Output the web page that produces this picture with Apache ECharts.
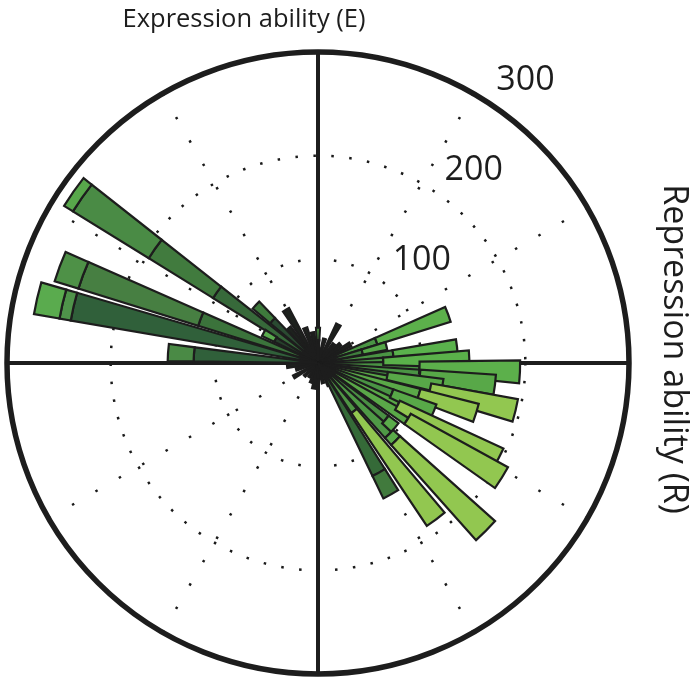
<!DOCTYPE html>
<html>
<head>
<meta charset="utf-8">
<script src="https://cdn.jsdelivr.net/npm/echarts@6/dist/echarts.min.js"></script>
<style>html,body{margin:0;padding:0;background:#fff;}#c{width:693px;height:681px;}</style>
</head>
<body>
<div id="c"></div>
<script>
// ---- data ----
const topLabel = 'Expression ability (E)';
const rightLabel = 'Repression ability (R)';
const radiusTicks = [100, 200, 300];
const radiusTickLabels = ['100', '200', '300'];

const DK = '#1e221e';
// bar directions (degrees, counter-clockwise from R axis)
const barAngles = [30, 40, 50, 62, 75, 100, 110, 121, 130, 186, 196, 210, 224, 238, 250, 260, 272, 284, 296,
  90, 137, 151, 145, 159.5, 167, 176,
  20.5, 14, 6.5, 1.5, 357.5, 353, 349.5, 346.5, 342.5, 337.5, 332, 328, 320, 315, 307, 299];
// stacked segment lengths, inner to outer (null = no segment)
const seg1 = [36, 28, 24, 42, 24, 30, 36, 60, 44, 30, 22, 27, 18, 16, 20, 25, 14, 20, 24,
  22, 60, 47, 119, 121, 242, 120,
  60, 44, 73, 63, 98, 99, 68, 111, 102, 77, 87, 102, 85, 97, 58, 121];
const seg2 = [null, null, null, null, null, null, null, null, null, null, null, null, null, null, null, null, null, null, null,
  12, 22, 13, 73, 121, 11, 25,
  74, 24, 62, 83, 97, 73, 54, 85, 58, 44, 110, 107, 12, 9, 131, 24];
const seg3 = [null, null, null, null, null, null, null, null, null, null, null, null, null, null, null, null, null, null, null,
  null, null, null, 86, 24, 25, null,
  null, null, null, null, null, null, null, null, null, null, null, null, null, 123, null, null];
const seg4 = [null, null, null, null, null, null, null, null, null, null, null, null, null, null, null, null, null, null, null,
  null, null, null, 10, null, null, null,
  null, null, null, null, null, null, null, null, null, null, null, null, null, null, null, null];
const col1 = [DK, DK, DK, DK, DK, DK, DK, DK, DK, DK, DK, DK, DK, DK, DK, DK, DK, DK, DK,
  DK, '#2a4a31', '#263f2b', '#37693a', '#3b733b', '#30603a', '#30603a',
  '#4a9444', '#3f7f3d', '#4a9444', '#4a9444', '#4a9444', '#4a9444', '#3f7f3d', '#5aa848', '#5aa848', '#4a9444', '#5aa848', '#5aa848', '#4a8f44', '#4f9a46', '#4f9645', '#356a38'];
const col2 = [DK, DK, DK, DK, DK, DK, DK, DK, DK, DK, DK, DK, DK, DK, DK, DK, DK, DK, DK,
  '#4f9a46', '#3e7a3c', '#5aab4e', '#417b3e', '#477f42', '#4f944a', '#4a8a45',
  '#5cb04b', '#55a648', '#5ab24c', '#5ab04a', '#5cb04b', '#58a848', '#58a848', '#92c750', '#92c750', '#58a848', '#92c750', '#92c750', '#5aab4a', '#5aab4a', '#92c750', '#417a3d'];
const col3 = barAngles.map(function (a, i) { return i === 22 ? '#4a8b45' : i === 23 ? '#4e9147' : i === 24 ? '#5aab4e' : '#92c750'; });
const col4 = barAngles.map(function () { return '#58a84b'; });

// ---- chart ----
const segs = [seg1, seg2, seg3, seg4];
const cols = [col1, col2, col3, col4];
const center = [318, 363];
const R = 311;

const series = segs.map(function (seg, k) {
  return {
    type: 'bar',
    coordinateSystem: 'polar',
    polarIndex: 0,
    stack: 'rose',
    barWidth: 6.5,
    silent: true,
    animation: false,
    itemStyle: { borderColor: '#1d1d1d', borderWidth: 2.2 },
    data: barAngles.map(function (a, i) {
      const v = seg[i];
      if (v == null) return { value: ['-', a] };
      return { value: [v, a], itemStyle: { color: cols[k][i] } };
    })
  };
});

const chart = echarts.init(document.getElementById('c'), null, { renderer: 'canvas' });
chart.setOption({
  backgroundColor: '#ffffff',
  animation: false,
  polar: [
    { center: center, radius: R },
    { center: center, radius: R },
    { center: [center[0] + 52, center[1] - 13], radius: R }
  ],
  angleAxis: [
    { polarIndex: 0, type: 'value', min: 0, max: 360, interval: 30, startAngle: 0, clockwise: false,
      axisLine: { show: true, lineStyle: { color: '#1d1d1d', width: 5.5 } },
      axisTick: { show: false }, axisLabel: { show: false },
      splitLine: { show: true, lineStyle: { color: '#1a1a1a', width: 2.5, type: [2.5, 24.5] } } },
    { polarIndex: 1, type: 'value', min: 0, max: 360, interval: 90, startAngle: 0, clockwise: false,
      axisLine: { show: false }, axisTick: { show: false }, axisLabel: { show: false },
      splitLine: { show: true, lineStyle: { color: '#1d1d1d', width: 4 } } },
    { polarIndex: 2, type: 'value', min: 0, max: 360, startAngle: 60, clockwise: false, show: false }
  ],
  radiusAxis: [
    { polarIndex: 0, type: 'value', min: 0, max: 300, interval: 100,
      axisLine: { show: false }, axisTick: { show: false }, axisLabel: { show: false },
      splitLine: { show: true, lineStyle: { color: '#1a1a1a', width: 2.5, type: [2.5, 15.5] } } },
    { polarIndex: 1, type: 'value', min: 0, max: 300, show: false },
    { polarIndex: 2, type: 'value', min: 0, max: 300, interval: 100,
      axisLine: { show: false }, axisTick: { show: false }, splitLine: { show: false },
      axisLabel: { show: true, margin: 0, align: 'center', verticalAlign: 'middle',
        fontFamily: 'Open Sans', fontSize: 34, color: '#1d1d1d',
        formatter: function (v) { const i = radiusTicks.indexOf(v); return i < 0 ? '' : radiusTickLabels[i]; } } }
  ],
  graphic: [
    { type: 'text', x: 244, y: 20, silent: true,
      style: { text: topLabel, font: '25.5px "Open Sans"', fill: '#1d1d1d', align: 'center', verticalAlign: 'middle' } },
    { type: 'text', x: 674, y: 349, rotation: -Math.PI / 2, silent: true,
      style: { text: rightLabel, font: '34px "Open Sans"', fill: '#1d1d1d', align: 'center', verticalAlign: 'middle' } }
  ],
  series: series
});
</script>
</body>
</html>
